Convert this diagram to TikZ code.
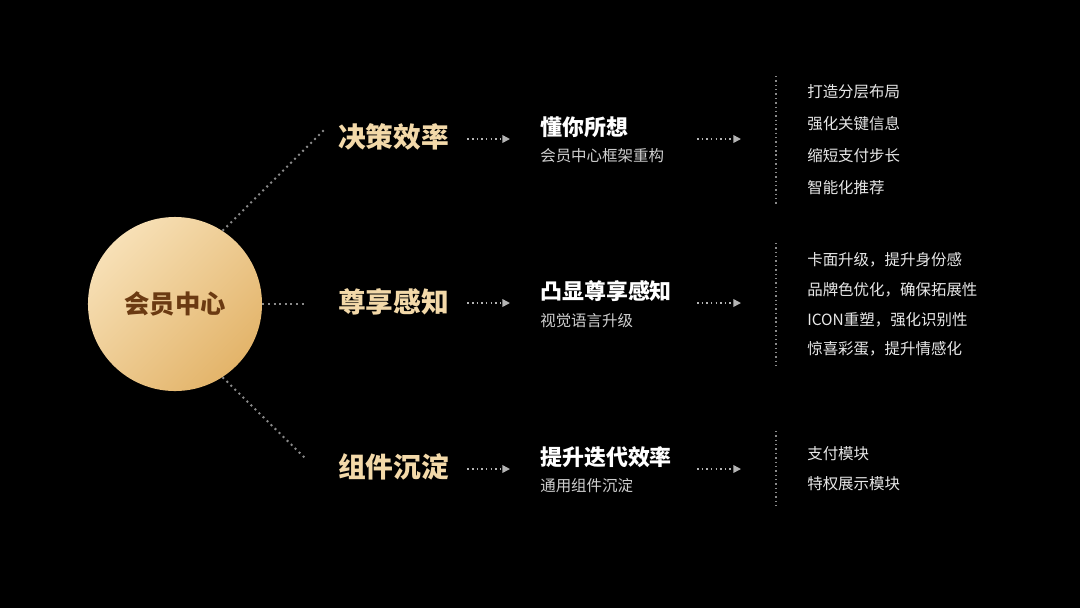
\documentclass[tikz,border=0pt]{standalone}
\usepackage{fontspec}
\setmainfont{Noto Sans CJK SC}
\usetikzlibrary{arrows.meta,positioning,calc}
\definecolor{goldLight}{HTML}{F7E0B6}
\definecolor{goldDark}{HTML}{E3B46A}
\definecolor{brownText}{HTML}{6B3A12}
\definecolor{creamText}{HTML}{F3D9A9}
\definecolor{dotGray}{HTML}{8A8A8A}
\definecolor{flowGray}{HTML}{B4B4B4}
\definecolor{subGray}{HTML}{CFCFCF}
\definecolor{itemGray}{HTML}{E8E8E8}
\tikzset{
  hub/.style   ={circle, minimum size=4.35cm, inner sep=0pt, top color=goldLight, bottom color=goldDark, shading angle=45,
                 text=brownText, font=\fontsize{18}{22}\selectfont\bfseries},
  topic/.style ={anchor=west, inner sep=0pt, text=creamText, font=\fontsize{19.7}{24}\selectfont\bfseries},
  head/.style  ={anchor=west, inner sep=0pt, text=white, font=\fontsize{15.6}{19}\selectfont\bfseries},
  sub/.style   ={anchor=west, inner sep=0pt, text=subGray, font=\fontsize{11}{13}\selectfont},
  item/.style  ={anchor=west, inner sep=0pt, text=itemGray, font=\fontsize{11}{13}\selectfont},
  link/.style  ={dotGray, line width=1.4pt, dash pattern=on 1.4pt off 2.6pt},
  flow/.style  ={-{Triangle[length=5.5pt, width=5.5pt]}, flowGray, line width=1.1pt, dash pattern=on 1.1pt off 2.2pt},
  rule/.style  ={dotGray, line width=1pt, dash pattern=on 1pt off 2.1pt},
}

\begin{document}
\begin{tikzpicture}[x=0.025cm, y=-0.025cm]
  % canvas
  \fill[black] (0,0) rectangle (1080,608);
  \useasboundingbox (0,0) rectangle (1080,608);

  % hub on the left
  \node[hub] (hub) at (175,304) {会员中心};

  % three themes
  \node[topic] (topic1) at (338,137) {决策效率};
  \node[topic] (topic2) at (338,302) {尊享感知};
  \node[topic] (topic3) at (338,467) {组件沉淀};

  \coordinate (l1) at (326,128);
  \coordinate (l2) at (306,304);
  \coordinate (l3) at (306,459);
  \draw[link] (hub.57)  -- (l1);
  \draw[link] (hub.0)   -- (l2);
  \draw[link] (hub.-57) -- (l3);

  % what each theme becomes
  \node[head] (head1) at (540,127) {懂你所想};
  \node[sub]  (sub1)  at (540,156) {会员中心框架重构};
  \node[head] (head2) at (540,291) {凸显尊享感知};
  \node[sub]  (sub2)  at (540,321) {视觉语言升级};
  \node[head] (head3) at (540,457) {提升迭代效率};
  \node[sub]  (sub3)  at (540,486) {通用组件沉淀};

  \foreach \i/\y in {1/139, 2/303, 3/469} {
    \draw[flow, shorten <=18*0.025cm, shorten >=30*0.025cm] (topic\i.east |- 0,\y) -- (head\i.west |- 0,\y);
    \coordinate (out\i) at (697,\y);
    \coordinate (in\i)  at (741,\y);
    \draw[flow] (out\i) -- (in\i);
  }

  % detail columns
  \coordinate (r1t) at (776,76);  \coordinate (r1b) at (776,205);
  \coordinate (r2t) at (776,243); \coordinate (r2b) at (776,366);
  \coordinate (r3t) at (776,431); \coordinate (r3b) at (776,506);
  \draw[rule] (r1t) -- (r1b);
  \draw[rule] (r2t) -- (r2b);
  \draw[rule] (r3t) -- (r3b);

  \foreach \t [count=\i] in {打造分层布局, 强化关键信息, 缩短支付步长, 智能化推荐}
    \node[item] (itemA\i) at (807,92+31.7*\i-31.7) {\t};
  \foreach \t [count=\i] in {卡面升级，提升身份感, 品牌色优化，确保拓展性, ICON重塑，强化识别性, 惊喜彩蛋，提升情感化}
    \node[item] (itemB\i) at (807,260+29.7*\i-29.7) {\t};
  \foreach \t [count=\i] in {支付模块, 特权展示模块}
    \node[item] (itemC\i) at (807,454+30*\i-30) {\t};
\end{tikzpicture}
\end{document}
